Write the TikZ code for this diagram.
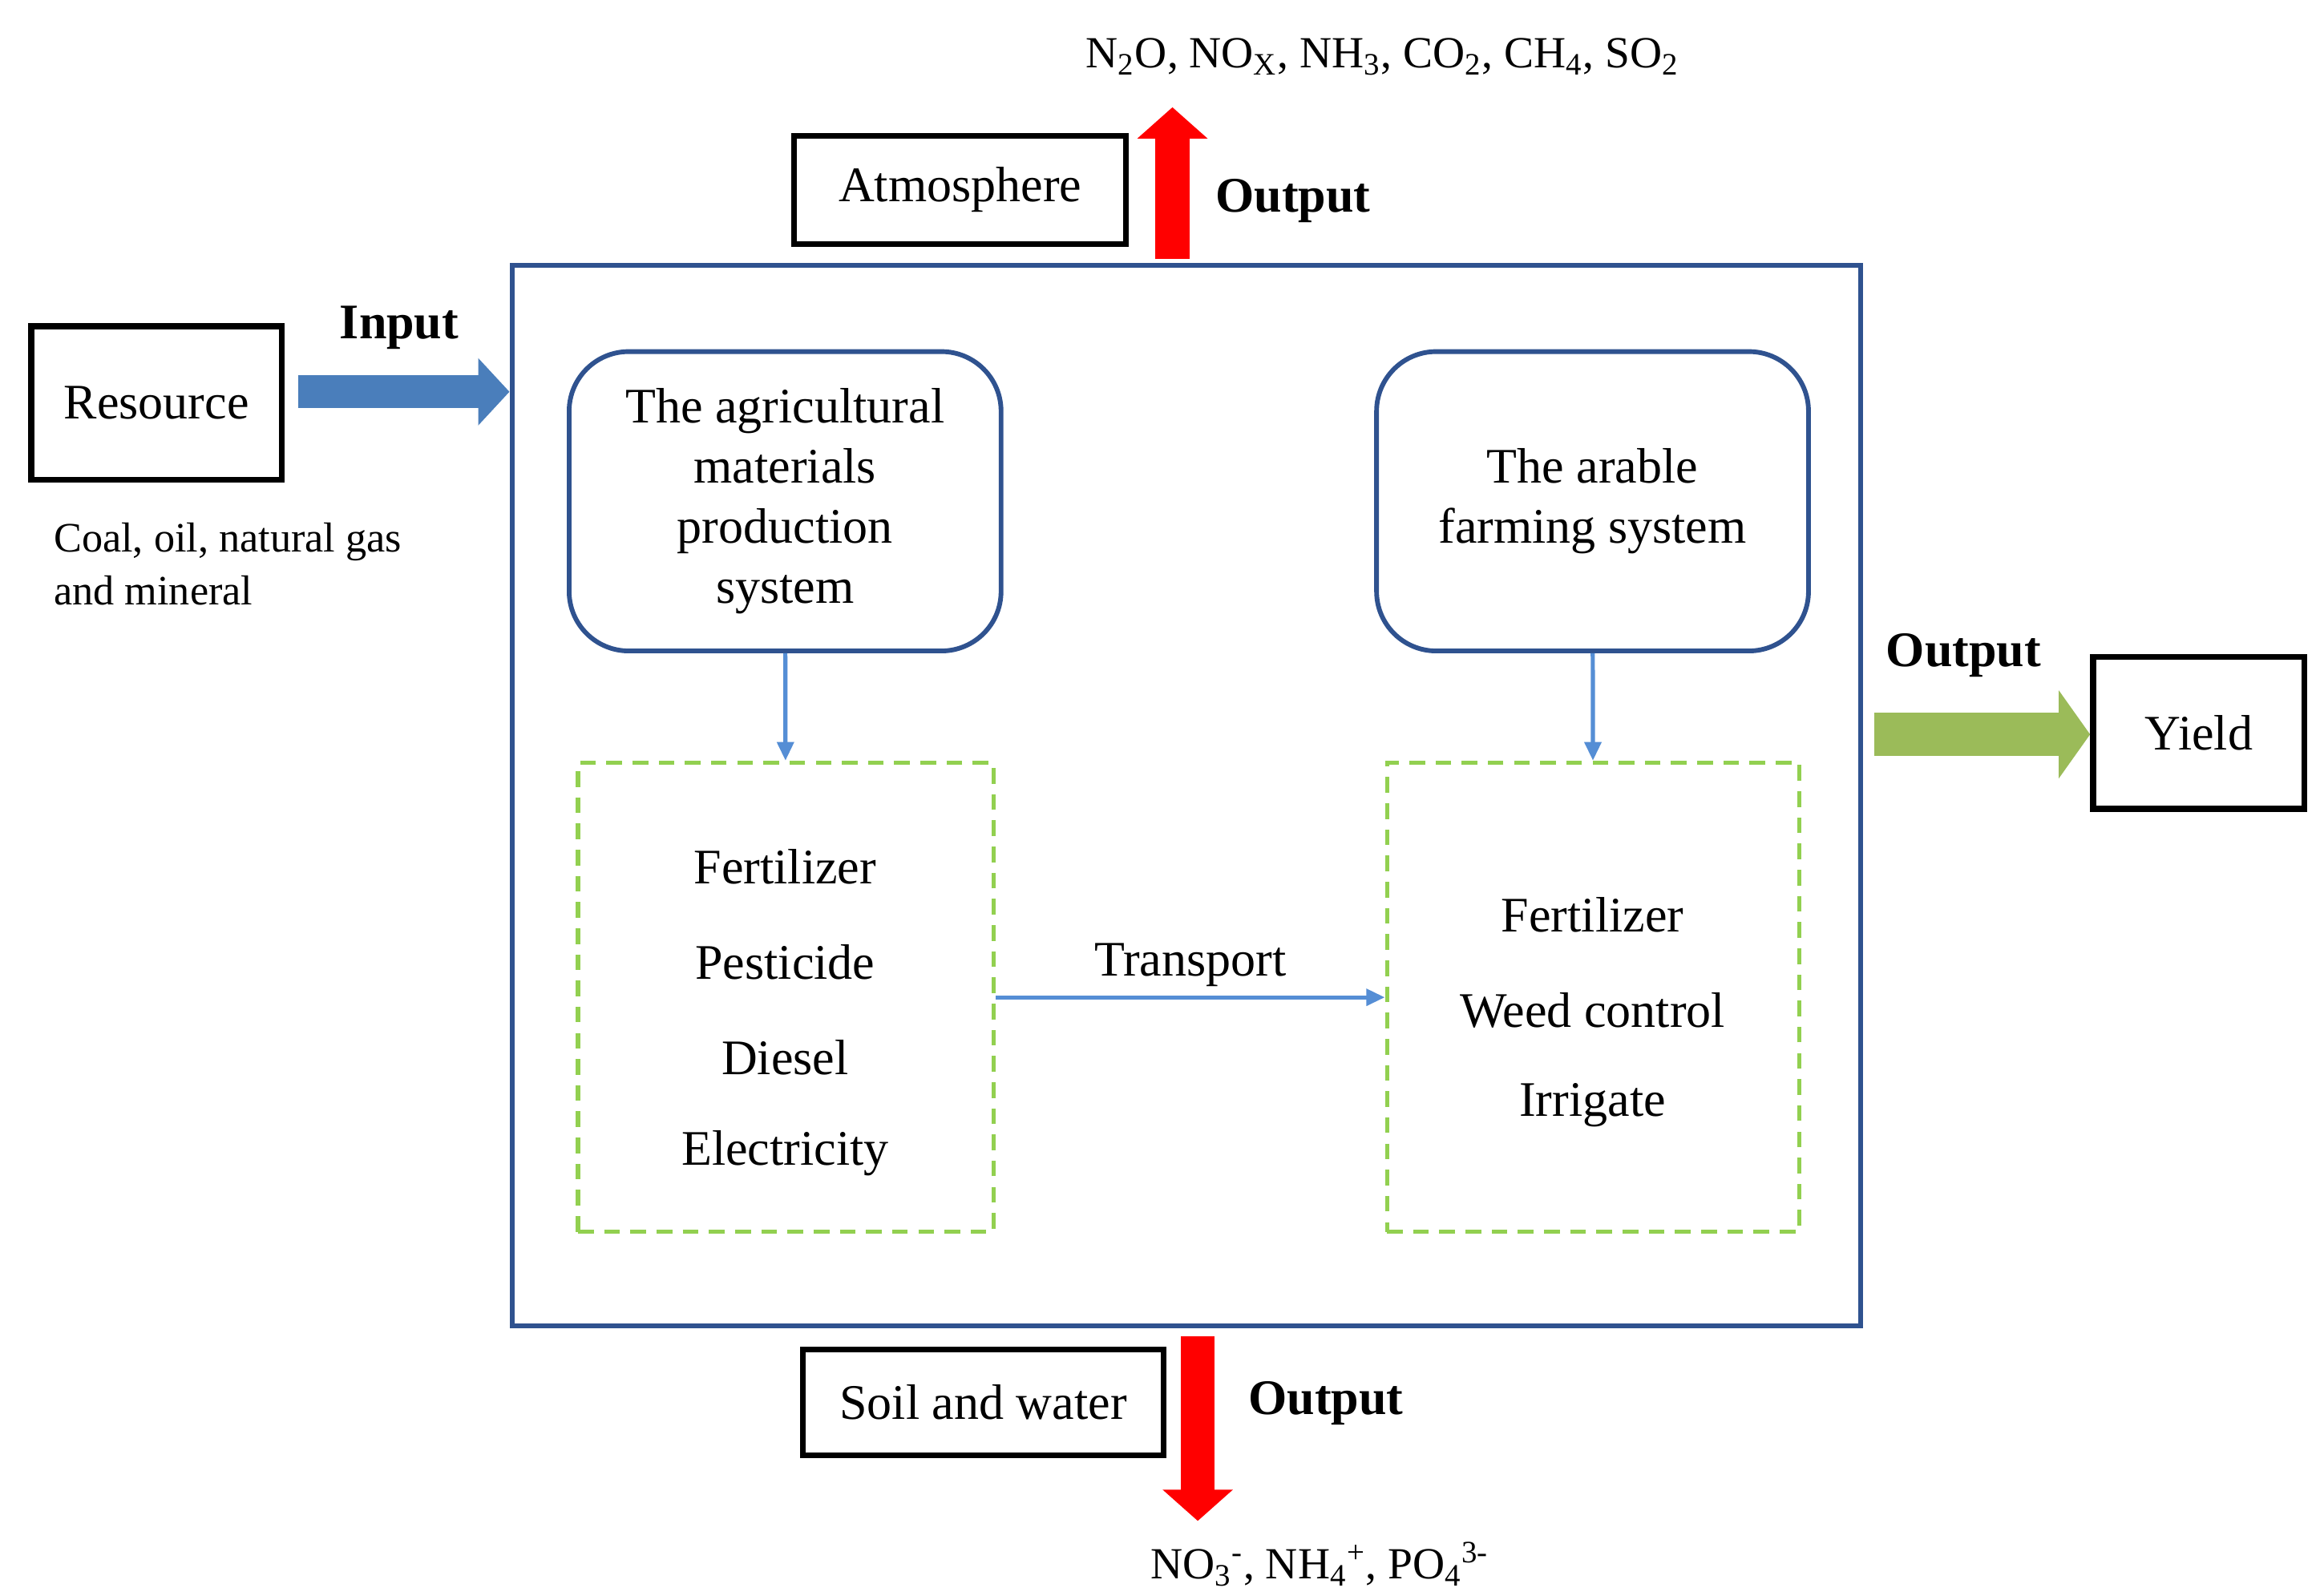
\documentclass[tikz,border=0pt]{standalone}
\usepackage{fontspec}
\setmainfont{Liberation Serif}
\usetikzlibrary{arrows.meta,positioning}
\definecolor{frameblue}{RGB}{47,82,143}
\definecolor{fatblue}{RGB}{74,126,187}
\definecolor{thinblue}{RGB}{85,142,213}
\definecolor{dashgreen}{RGB}{146,208,80}
\definecolor{fatgreen}{RGB}{155,187,89}
\tikzset{
  blackbox/.style={draw=black, line width=2.2pt, inner sep=0pt},
  roundbox/.style={draw=frameblue, line width=1.8pt, rounded corners=0.8cm, align=center, inner sep=0pt},
  dashbox/.style={draw=dashgreen, line width=1.6pt, dashed, dash pattern=on 6pt off 4pt},
  fatarrow/.style={line width=#1, -{Triangle[length=0.42cm,width=2*#1]}},
  thinarrow/.style={draw=thinblue, line width=1.6pt, -{Triangle[length=0.25cm,width=0.22cm]}},
  big/.style={font=\fontsize{19}{25}\selectfont},
  bold/.style={font=\fontsize{19}{25}\selectfont\bfseries}
}
\begin{document}
\begin{tikzpicture}[x=0.02cm,y=-0.02cm]
\useasboundingbox (0,0) rectangle (1560,1071);

% main frame
\draw[draw=frameblue, line width=1.8pt] (344,178) rectangle (1249,890);

% outside boxes
\node[blackbox, big, minimum width=4.46cm, minimum height=1.46cm] (atmo) at (644.5,127.5) {Atmosphere};
\node[blackbox, big, minimum width=3.36cm, minimum height=2.06cm] (res) at (105,270.5) {Resource};
\node[blackbox, big, minimum width=2.84cm, minimum height=2.04cm] (yield) at (1476,492) {Yield};
\node[blackbox, big, minimum width=4.84cm, minimum height=1.42cm] (soil) at (660,941.5) {Soil and water};

% systems
\node[roundbox, big, minimum width=5.8cm, minimum height=4.02cm] (agri) at (527,336.5)
  {The agricultural\\[-2pt] materials\\[-2pt] production\\[-2pt] system};
\node[roundbox, big, minimum width=5.8cm, minimum height=4.02cm] (arable) at (1069,336.5)
  {The arable\\[-2pt] farming system};

\node[dashbox, minimum width=5.58cm, minimum height=6.3cm] (mat) at (527.5,669.5) {};
\node[dashbox, minimum width=5.54cm, minimum height=6.3cm] (farm) at (1069.5,669.5) {};

% items
\foreach \t/\y in {Fertilizer/582, Pesticide/646, Diesel/710, Electricity/774}
  \node[big] at (527,\y) {\t};
\foreach \t/\y in {Fertilizer/614, Weed control/678, Irrigate/742}
  \node[big] at (1069,\y) {\t};

\draw[thinarrow] (agri) -- (mat);
\draw[thinarrow] (arable) -- (farm);
\draw[thinarrow] (mat) -- node[above, big, pos=0.5] {Transport} (farm);

% flows
\coordinate (inS) at (200,263);
\coordinate (inE) at (342,263);
\draw[fatarrow=0.44cm, draw=fatblue] (inS) -- (inE);
\node[bold] at (268,220) {Input};
\node[align=left, anchor=north west, font=\fontsize{16}{20}\selectfont] (coal) at (30,345)
  {Coal, oil, natural gas\\and mineral};

\coordinate (upS) at (787,174);
\coordinate (upE) at (787,72);
\draw[fatarrow=0.46cm, draw=red] (upS) -- (upE);
\node[bold] at (868,135) {Output};
\node[font=\fontsize{17}{20}\selectfont] (gas) at (928,38)
  {N\textsubscript{2}O, NO\textsubscript{X}, NH\textsubscript{3}, CO\textsubscript{2}, CH\textsubscript{4}, SO\textsubscript{2}};

\coordinate (rS) at (1258,493);
\coordinate (rE) at (1403,493);
\draw[fatarrow=0.58cm, draw=fatgreen] (rS) -- (rE);
\node[bold] at (1318,440) {Output};

\coordinate (dS) at (804,897);
\coordinate (dE) at (804,1021);
\draw[fatarrow=0.46cm, draw=red] (dS) -- (dE);
\node[bold] at (890,942) {Output};
\node[font=\fontsize{17}{20}\selectfont] (ions) at (886,1050)
  {NO\textsubscript{3}\textsuperscript{-}, NH\textsubscript{4}\textsuperscript{+}, PO\textsubscript{4}\textsuperscript{3-}};
\end{tikzpicture}
\end{document}
